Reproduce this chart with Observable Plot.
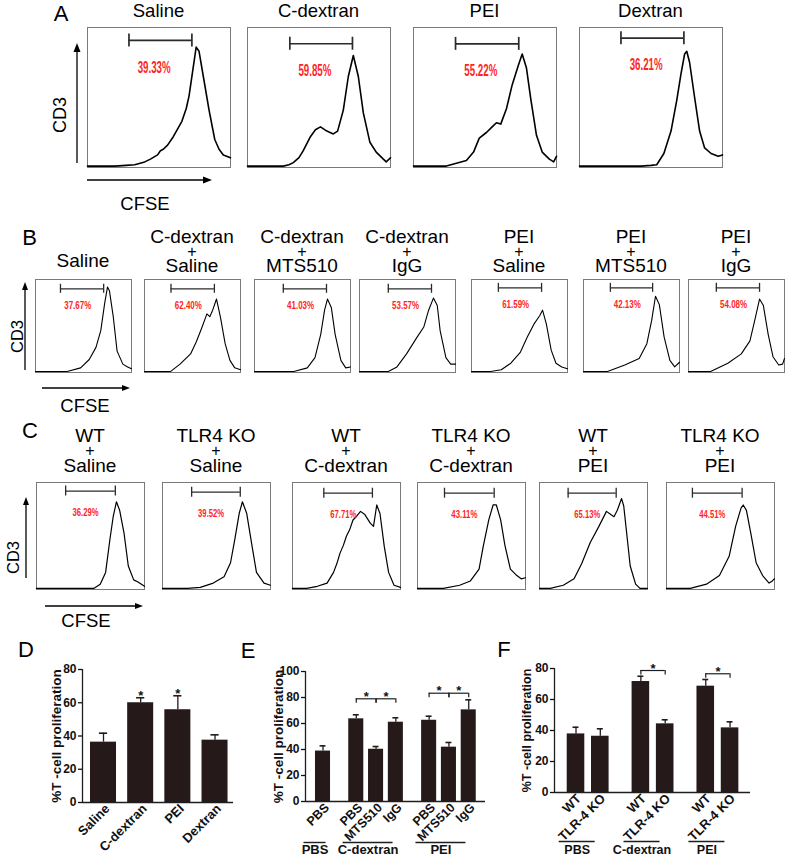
<!DOCTYPE html>
<html><head><meta charset="utf-8">
<script src="https://cdn.jsdelivr.net/npm/d3@7"></script>
<script src="https://cdn.jsdelivr.net/npm/@observablehq/plot@0.6"></script>
<style>
body{margin:0;background:#fff;}
#fig{position:relative;width:787px;height:858px;overflow:hidden;background:#fff;}
#fig svg{max-width:none;background:transparent;font-family:"Liberation Sans",Arial,sans-serif;font-size:12px;color:#111;overflow:visible;}
</style></head><body><div id="fig"></div>
<script>
const FONT = '"Liberation Sans", Arial, sans-serif';
const BAR = "#251a19";

// ---------------- Panel A ----------------
const aTitles = ["Saline", "C-dextran", "PEI", "Dextran"];
const aPercents = ["39.33%", "59.85%", "55.22%", "36.21%"];
const aGates = [[29, 73, 90.8], [29.6, 73.4, 88.4], [29.4, 73.6, 88.3], [29, 73, 92.4]];
const aSaline = [[0,1],[19,1],[27,1.5],[33,2],[40,4],[44,6],[49,9],[51,12],[53,13],[56,16],[60,22],[66,33],[69,42],[71,51],[74,72],[76,86],[78,83],[81,65],[85,41],[89,20],[92,13],[95,9],[100,7]];
const aCdextran = [[0,1],[25,1],[29,2],[32,3.5],[36,7],[39,12],[44,22],[47.5,27],[51,29],[55.5,26],[60,24],[63,26],[67,41],[70.5,65],[74,80],[77.5,65],[81,39],[85.6,18],[90,11],[95,6],[97,4],[100,7]];
const aPEI = [[0,1],[23,1],[30,3],[37,5],[42,11],[46,21],[51,25],[55,29],[58,32],[61,31],[65,42],[69,59],[73,72],[76,81],[79,71],[82,49],[86,23],[90,11],[95,6],[98,4],[100,8]];
const aDextran = [[0,1],[43,1],[50,1.5],[54,2],[59,10],[64,26],[68,48],[71,67],[73.5,81],[75,83],[77,75],[80.5,50],[84,26],[87.5,14],[92,10],[97,8],[100,9]];
const aCurves = [aSaline, aCdextran, aPEI, aDextran];

// ---------------- Panel B ----------------
const bTitles = [["Saline"], ["C-dextran","+","Saline"], ["C-dextran","+","MTS510"], ["C-dextran","+","IgG"], ["PEI","+","Saline"], ["PEI","+","MTS510"], ["PEI","+","IgG"]];
const bPercents = ["37.67%", "62.40%", "41.03%", "53.57%", "61.59%", "42.13%", "54.08%"];
const bGates = [[26,71,90],[27.6,72.8,90],[30,75,90],[30,75,90],[28,73,91],[28,72,91],[29,74,91]];
const bSaline = [[0,1],[33,1],[47,5],[56,14],[63,27],[68,45],[72,74],[75,92],[77,88],[81,60],[85,23],[91,9],[96,6],[100,4]];
const bCdexSaline = [[0,1],[27,1],[37,9],[48,20],[54,33],[60,49],[65,63],[68,60],[71,67],[75,79],[79,60],[84,31],[89,13],[94,5],[100,3]];
const bCdexMTS = [[0,1],[41,1],[55,5],[63,16],[69,41],[73,67],[76,79],[80,70],[84,41],[90,13],[95,5],[100,6]];
const bCdexIgG = [[0,1],[30,1],[39,6],[49,20],[60,38],[67,49],[72,67],[77,80],[81,72],[84,45],[90,16],[95,9],[100,9]];
const bPEISaline = [[0,1],[20,1],[31,3],[41,10],[51,22],[58,38],[65,52],[71,61],[74,67],[78,52],[83,24],[88,10],[94,6],[100,4]];
const bPEIMTS = [[0,1],[25,1],[43,8],[58,15],[66,31],[71,56],[75,82],[79,73],[84,38],[90,13],[95,6],[100,11]];
const bPEIIgG = [[0,1],[23,1],[41,10],[55,20],[64,34],[69,56],[74,79],[78,72],[83,41],[88,17],[94,8],[98,9],[100,15]];
const bCurves = [bSaline, bCdexSaline, bCdexMTS, bCdexIgG, bPEISaline, bPEIMTS, bPEIIgG];

// ---------------- Panel C ----------------
const cTitles = [["WT","+","Saline"], ["TLR4 KO","+","Saline"], ["WT","+","C-dextran"], ["TLR4 KO","+","C-dextran"], ["WT","+","PEI"], ["TLR4 KO","+","PEI"]];
const cPercents = ["36.29%", "39.52%", "67.71%", "43.11%", "65.13%", "44.51%"];
const cGates = [[27,73,92],[27,72,91],[29,74,90],[25,71,90],[26.5,71,90],[24,70,90]];
const cWTSaline = [[0,1],[53,1],[59,5],[64,16],[68,47],[71,68],[74,82],[77,74],[81,53],[85,22],[90,9],[94,7],[100,3]];
const cKOSaline = [[0,1],[23,1],[35,2],[47,6],[57,12],[63,25],[67,47],[71,71],[74,82],[78,71],[83,40],[87,16],[94,6],[100,4]];
const cWTCdex = [[0,1],[13,1],[23,3],[32,6],[38,16],[41,24],[44,34],[47,41],[50,50],[53,56],[56,65],[59,68],[63,73],[67,70],[72,62],[75,59],[78,79],[81,71],[85,40],[89,16],[94,4],[100,2]];
const cKOCdex = [[0,1],[24,1],[39,4],[49,8],[57,19],[61,41],[66,65],[70,79],[73,79],[77,65],[81,41],[86,19],[92,13],[96,10],[100,11]];
const cWTPEI = [[0,1],[10,1],[22,4],[32,10],[39,24],[47,44],[55,59],[62,73],[66,70],[69,68],[72,74],[76,85],[78,78],[81,50],[84,22],[89,5],[93,1],[100,1]];
const cKOPEI = [[0,1],[22,1],[37,5],[49,13],[58,31],[64,59],[69,76],[71,79],[74,74],[78,53],[83,25],[89,13],[95,6],[98,8],[100,10]];
const cCurves = [cWTSaline, cKOSaline, cWTCdex, cKOCdex, cWTPEI, cKOPEI];

// ---------------- Panel D ----------------
const yTitle = "%T -cell proliferation";
const dCategories = ["Saline", "C-dextran", "PEI", "Dextran"];
const dMeans = [36.3, 60.0, 55.8, 37.5];
const dSEM = [5.4, 3.0, 8.4, 3.2];
const dStars = [false, true, true, false];

// ---------------- Panel E ----------------
const eGroups = ["PBS", "C-dextran", "PEI"];
const eTreatments = [["PBS"], ["PBS", "MTS510", "IgG"], ["PBS", "MTS510", "IgG"]];
const eMeans = [[38.8], [63.6, 40.2, 61.0], [62.5, 41.8, 70.5]];
const eSEM = [[4.0], [3.1, 2.1, 3.4], [3.1, 3.6, 7.7]];
const eBrackets = [[1, 0, 1, 79], [1, 1, 2, 79], [2, 0, 1, 83.3], [2, 1, 2, 83.3]];

// ---------------- Panel F ----------------
const fGroups = ["PBS", "C-dextran", "PEI"];
const fGenotypes = [["WT", "TLR-4 KO"], ["WT", "TLR-4 KO"], ["WT", "TLR-4 KO"]];
const fMeans = [[37.8, 36.3], [71.6, 44.3], [68.6, 41.7]];
const fSEM = [[4.3, 4.8], [3.4, 2.6], [4.3, 3.9]];
const fBrackets = [[1, 0, 1, 78.7], [2, 0, 1, 76.6]];

// ================= drawing =================
const fig = d3.select("#fig");
function place(node, left, top) {
  fig.append("div").style("position", "absolute").style("left", left + "px").style("top", top + "px").node().appendChild(node);
}

function hist(curve, gate, pct, w, h, o) {
  const half = o.tick / h * 100;
  const svg = Plot.plot({
    width: w + 2, height: h + 2, margin: 1,
    x: {domain: [0, 100], axis: null},
    y: {domain: [0, 100], axis: null},
    marks: [
      Plot.frame({stroke: "#7a7a7a", strokeWidth: 1}),
      Plot.line(curve, {x: d => d[0], y: d => d[1], stroke: "#000", strokeWidth: o.curveWidth, strokeLinejoin: "round"}),
      Plot.ruleY([gate], {y: d => d[2], x1: d => d[0], x2: d => d[1], stroke: "#2b2b2b", strokeWidth: o.gateWidth}),
      Plot.ruleX([gate[0], gate[1]], {x: d => d, y1: gate[2] - half, y2: gate[2] + half, stroke: "#2b2b2b", strokeWidth: o.gateWidth}),
      Plot.text([pct], {x: gate[0] + 0.4 * (gate[1] - gate[0]), y: gate[2], dy: o.labelDy, text: d => d, fill: "#ff2424", fontWeight: "bold", fontSize: o.pctSize})
    ]
  });
  svg.querySelectorAll("text").forEach(t => { t.setAttribute("textLength", o.pctWidth); t.setAttribute("lengthAdjust", "spacingAndGlyphs"); });
  return svg;
}

const LA = {lefts: [87, 247, 413, 579], top: 27, w: 143, h: 140, o: {tick: 6.5, curveWidth: 1.6, gateWidth: 1.7, labelDy: 27, pctSize: 16, pctWidth: 33}};
const LB = {lefts: [35, 144, 254, 359, 471, 583, 688], top: 279, w: 96, h: 93, o: {tick: 4.5, curveWidth: 1.1, gateWidth: 1.3, labelDy: 17, pctSize: 11, pctWidth: 27}};
const LC = {lefts: [36, 162, 292, 417, 539, 666], top: 482, w: 108, h: 107, o: {tick: 5, curveWidth: 1.2, gateWidth: 1.3, labelDy: 21, pctSize: 11, pctWidth: 26}};

aCurves.forEach((c, i) => place(hist(c, aGates[i], aPercents[i], LA.w, LA.h, LA.o), LA.lefts[i] - 1, LA.top - 1));
bCurves.forEach((c, i) => place(hist(c, bGates[i], bPercents[i], LB.w, LB.h, LB.o), LB.lefts[i] - 1, LB.top - 1));
cCurves.forEach((c, i) => place(hist(c, cGates[i], cPercents[i], LC.w, LC.h, LC.o), LC.lefts[i] - 1, LC.top - 1));

function barChart(groups, labels, means, sems, stars, brackets, L) {
  const items = [];
  let k = 0;
  labels.forEach((labs, gi) => labs.forEach((lab, j) => {
    items.push({gi, j, label: lab, pos: k + L.gap * gi, mean: means[gi][j], sem: sems[gi][j], star: stars ? stars[gi][j] : false});
    k++;
  }));
  const find = (gi, j) => items.find(d => d.gi === gi && d.j === j);
  const pw = L.width - L.mL - L.mR, ph = L.height - L.mT - L.mB;
  const ppx = pw / (L.xDomain[1] - L.xDomain[0]);
  const ppy = ph / (L.yDomain[1] - L.yDomain[0]);
  const labelOf = new Map(items.map(d => [d.pos, d.label]));
  const br = brackets.map(([gi, a, b, level]) => ({x1: find(gi, a).pos, x2: find(gi, b).pos, level}));
  const brEnds = br.flatMap(b => [{x: b.x1, y: b.level}, {x: b.x2, y: b.level}]);
  const grp = groups ? groups.map((g, gi) => {
    const its = items.filter(d => d.gi === gi);
    const c = d3.mean(its, d => d.pos);
    const h = (11 + 7 * (its.length - 1)) / ppx;
    return {name: g, c, x1: c - h, x2: c + h};
  }) : [];
  const ink = "#1e1e1e";
  return Plot.plot({
    width: L.width, height: L.height,
    marginLeft: L.mL, marginTop: L.mT, marginBottom: L.mB, marginRight: L.mR,
    x: {domain: L.xDomain},
    y: {domain: L.yDomain},
    marks: [
      Plot.rect(items, {x1: d => d.pos - L.half, x2: d => d.pos + L.half, y1: 0, y2: "mean", fill: BAR}),
      Plot.ruleX(items, {x: "pos", y1: "mean", y2: d => d.mean + d.sem, stroke: BAR, strokeWidth: 1.3}),
      Plot.ruleY(items, {y: d => d.mean + d.sem, x1: d => d.pos - L.cap, x2: d => d.pos + L.cap, stroke: BAR, strokeWidth: 1.6}),
      Plot.ruleX([L.xDomain[0]], {stroke: ink, strokeWidth: 1.3}),
      Plot.ruleY([0], {stroke: ink, strokeWidth: 1.3}),
      Plot.axisY({ticks: L.yTicks, tickSize: 4, tickPadding: 2, label: null, fontSize: 12, fontWeight: "bold", strokeWidth: 1.3}),
      Plot.axisX({ticks: items.map(d => d.pos), tickFormat: d => labelOf.get(d), tickRotate: -45, tickSize: 0, tickPadding: L.xPad, label: null, fontSize: L.xSize, fontWeight: "bold", dx: L.xDx}),
      Plot.text([yTitle], {frameAnchor: "left", textAnchor: "middle", lineAnchor: "middle", dx: L.ylabDx, rotate: -90, fontSize: L.ylabSize, fontWeight: "bold", text: d => d}),
      Plot.text(items.filter(d => d.star), {x: "pos", y: d => d.mean + d.sem, text: () => "*", dy: -2, fontSize: 13, fontWeight: "bold"}),
      Plot.ruleY(br, {y: "level", x1: "x1", x2: "x2", stroke: ink, strokeWidth: 1.2}),
      Plot.ruleX(brEnds, {x: "x", y1: "y", y2: d => d.y - L.tickLen / ppy, stroke: ink, strokeWidth: 1.2}),
      Plot.text(br, {x: d => (d.x1 + d.x2) / 2, y: "level", text: () => "*", dy: -2, fontSize: 13, fontWeight: "bold"}),
      Plot.ruleY(grp, {y: 0, x1: "x1", x2: "x2", dx: L.gDx, dy: L.gLineDy, stroke: ink, strokeWidth: 1.4}),
      Plot.text(grp, {x: "c", y: 0, text: "name", dx: L.gDx, dy: L.gLabelDy, fontSize: L.gSize, fontWeight: "bold"})
    ]
  });
}

const LD = {width: 240, height: 218, mL: 82, mT: 29, mB: 56, mR: 7, xDomain: [-0.565, 3.497], yDomain: [0, 80], yTicks: [0, 20, 40, 60, 80], gap: 0, half: 0.35, cap: 0.11, tickLen: 4.5, xPad: 4, xSize: 13, xDx: 4, ylabDx: -26, ylabSize: 13.5};
const LE = {width: 245, height: 218, mL: 60, mT: 31, mB: 57, mR: 5, xDomain: [-0.884, 8.207], yDomain: [0, 100], yTicks: [0, 20, 40, 60, 80, 100], gap: 0.68, half: 0.38, cap: 0.15, tickLen: 4.5, xPad: 4, xSize: 12.5, xDx: 4, ylabDx: -27, ylabSize: 13.5, gDx: -8, gLineDy: 41, gLabelDy: 48, gSize: 13};
const LF = {width: 287, height: 218, mL: 54, mT: 28, mB: 66, mR: 37, xDomain: [-0.885, 7.181], yDomain: [0, 80], yTicks: [0, 20, 40, 60, 80], gap: 0.67, half: 0.362, cap: 0.123, tickLen: 4.5, xPad: 4, xSize: 13, xDx: 3, ylabDx: -28, ylabSize: 12.5, gDx: -11, gLineDy: 49, gLabelDy: 57.5, gSize: 12.5};

place(barChart(null, [dCategories], [dMeans], [dSEM], [dStars], [], LD), 0, 640);
place(barChart(eGroups, eTreatments, eMeans, eSEM, null, eBrackets, LE), 245, 640);
place(barChart(fGroups, fGenotypes, fMeans, fSEM, null, fBrackets, LF), 500, 640);

// ---------------- annotation overlay (titles, panel letters, axis arrows) ----------------
const ov = fig.append("svg").attr("width", 787).attr("height", 858)
  .style("position", "absolute").style("left", "0px").style("top", "0px").style("pointer-events", "none")
  .attr("font-family", FONT).attr("fill", "#000");
function txt(t, x, y, size, rot) {
  const el = ov.append("text").attr("x", x).attr("y", y).attr("font-size", size).attr("text-anchor", "middle").text(t);
  if (rot) el.attr("transform", `rotate(${rot},${x},${y})`).attr("dominant-baseline", "central");
  return el;
}
// a stacked title kept as one text element (lines as tspans, tight leading as in the figure)
function stacked(lines, x, baselines, sizes) {
  const el = ov.append("text").attr("x", x).attr("y", baselines[0]).attr("text-anchor", "middle");
  lines.forEach((l, j) => el.append("tspan").attr("x", x).attr("y", baselines[j]).attr("font-size", sizes[j]).text(l));
  return el;
}
function arrow(x1, y1, x2, y2, len, hw) {
  const dx = x2 - x1, dy = y2 - y1, L = Math.hypot(dx, dy), ux = dx / L, uy = dy / L;
  const bx = x2 - ux * len, by = y2 - uy * len;
  ov.append("line").attr("x1", x1).attr("y1", y1).attr("x2", bx).attr("y2", by).attr("stroke", "#000").attr("stroke-width", 1.3);
  ov.append("path").attr("d", `M${x2},${y2}L${bx - uy * hw},${by + ux * hw}L${bx + uy * hw},${by - ux * hw}Z`).attr("fill", "#000");
}

// panel letters
[["A", 61, 20.7], ["B", 29.5, 245], ["C", 30, 438], ["D", 26, 657], ["E", 248, 658], ["F", 504, 657]].forEach(([t, x, y]) => txt(t, x, y, 22));

// panel A titles
aTitles.forEach((t, i) => txt(t, LA.lefts[i] + LA.w / 2, 17, 18.5));
// panel B titles
bTitles.forEach((lines, i) => {
  const cx = LB.lefts[i] + LB.w / 2;
  if (lines.length === 1) txt(lines[0], cx, 267, 19);
  else stacked(lines, cx, [243, 256.5, 271.7], [19, 16, 19]);
});
// panel C titles
cTitles.forEach((lines, i) => stacked(lines, LC.lefts[i] + LC.w / 2, [442, 455.5, 471.7], [19, 16, 19]));

// axis arrows + labels
arrow(77, 163, 77, 43, 9, 3.5); txt("CD3", 59.5, 115, 18, -90);
arrow(87, 180, 212, 180, 9, 3.5); txt("CFSE", 145, 209.7, 18.5);
arrow(25, 370, 25, 282, 8, 3); txt("CD3", 16.5, 336.5, 16.5, -90);
arrow(42, 388, 130, 388, 8, 3); txt("CFSE", 85, 411.7, 18.5);
arrow(26, 578, 26, 497, 8, 3); txt("CD3", 13, 557.5, 16.5, -90);
arrow(45, 606, 143, 606, 8, 3); txt("CFSE", 86, 627, 18.5);
</script></body></html>
